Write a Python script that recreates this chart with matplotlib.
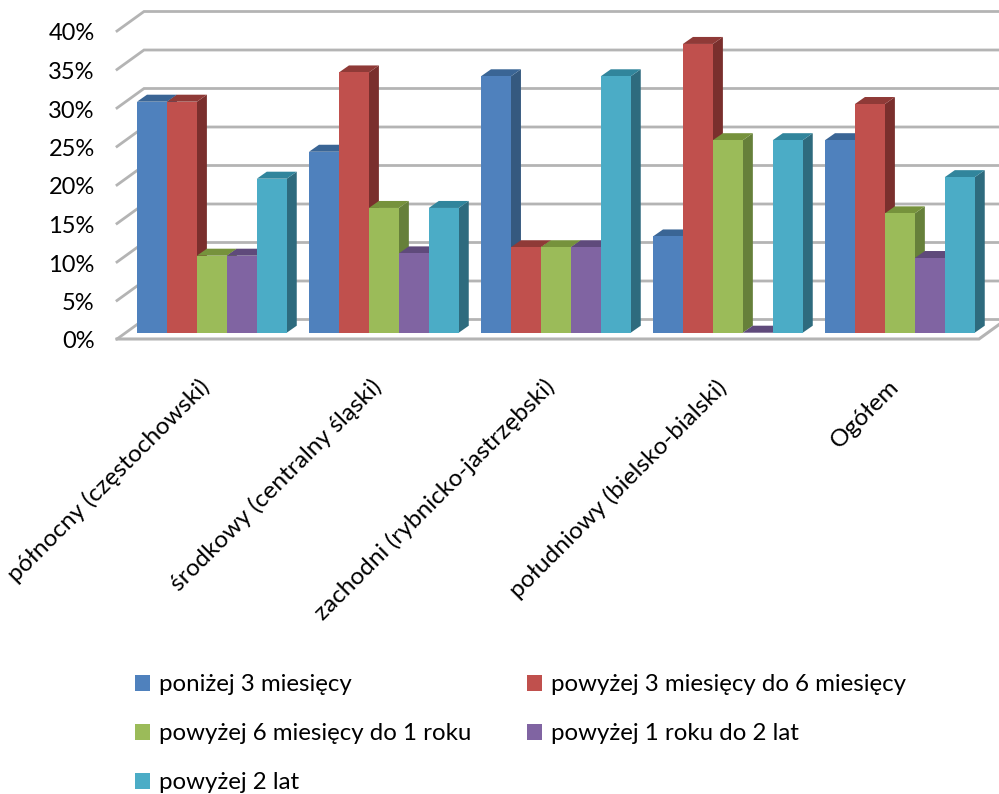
import matplotlib
matplotlib.use("Agg")
import matplotlib.pyplot as plt
from matplotlib.patches import Patch
from matplotlib.transforms import ScaledTranslation

plt.rcParams['font.family'] = ['Lato', 'DejaVu Sans']

categories = ["północny (częstochowski)", "środkowy (centralny śląski)",
              "zachodni (rybnicko-jastrzębski)", "południowy (bielsko-bialski)", "Ogółem"]
series_names = ["poniżej 3 miesięcy", "powyżej 3 miesięcy do 6 miesięcy",
                "powyżej 6 miesięcy do 1 roku", "powyżej 1 roku do 2 lat", "powyżej 2 lat"]
s1 = [30.0, 23.5, 33.3, 12.5, 25.0]
s2 = [30.0, 33.8, 11.1, 37.5, 29.7]
s3 = [10.0, 16.2, 11.1, 25.0, 15.5]
s4 = [10.0, 10.3, 11.1, 0.0, 9.7]
s5 = [20.0, 16.2, 33.3, 25.0, 20.2]
series = [s1, s2, s3, s4, s5]
yticks = [0, 5, 10, 15, 20, 25, 30, 35, 40]
front = ["#4F81BD", "#C0504D", "#9BBB59", "#8064A2", "#4BACC6"]
tops = ["#3A6595", "#8F3A37", "#76923C", "#5F4A7B", "#31859C"]
sides = ["#35597F", "#7A2F2D", "#66803A", "#574270", "#2E6B7E"]
grid = "#B4B4B4"

W, H = 999, 794
fig = plt.figure(figsize=(W / 100, H / 100), dpi=100, facecolor="white")
L, R, T, B = 117, 979, 31, 339
ax = fig.add_axes([L / W, 1 - B / H, (R - L) / W, (B - T) / H])
ax.set_xlim(0, 5)
ax.set_ylim(0, 40)
ax.patch.set_visible(False)
for s in ax.spines.values():
    s.set_visible(False)

ux = (R - L) / 5          # px per category
uy = (B - T) / 40         # px per percent
def dx(px): return px / ux
def dy(px): return px / uy

# depth offsets
wall_dx, wall_dy = dx(27), dy(19.5)
bar_off_x, bar_off_y = dx(9.7), dy(6.3)
bar_dx, bar_dy = dx(10), dy(7)

# walls / gridlines
for v in yticks:
    ax.plot([0, wall_dx, 5 + wall_dx], [v, v + wall_dy, v + wall_dy],
            color=grid, lw=2.0, clip_on=False, zorder=1, solid_joinstyle="miter")
ax.plot([0, 5, 5 + wall_dx], [0, 0, wall_dy], color=grid, lw=2.2, clip_on=False, zorder=1,
        solid_joinstyle="miter")

bw = dx(29.95)
gap = dx(10.3)
pitch = 172.0 / ux
z = 3
for c in range(len(categories)):
    for i, vals in enumerate(series):
        v = vals[c]
        x0 = c * pitch + gap + bar_off_x + i * bw
        x1 = x0 + bw
        y0 = bar_off_y
        y1 = y0 + v
        ax.fill([x1, x1 + bar_dx, x1 + bar_dx, x1], [y0, y0 + bar_dy, y1 + bar_dy, y1],
                color=sides[i], lw=0, clip_on=False, zorder=z)
        ax.fill([x0, x0 + bar_dx, x1 + bar_dx, x1], [y1, y1 + bar_dy, y1 + bar_dy, y1],
                color=tops[i], lw=0, clip_on=False, zorder=z)
        ax.bar(x0, v, width=bw, bottom=y0, align="edge", color=front[i], lw=0,
               clip_on=False, zorder=z + 0.5)
        z += 1

ax.set_yticks(yticks)
ax.set_yticklabels([f"{v}%" for v in yticks], fontsize=17, color="black")
ax.set_xticks([c + 0.5 for c in range(len(categories))])
ax.set_xticklabels(categories, rotation=45, ha="right", rotation_mode="anchor",
                   fontsize=17.6, color="black")
ax.tick_params(axis="both", length=0)
ax.tick_params(axis="y", pad=16)
ax.tick_params(axis="x", pad=26.5)
shift = ScaledTranslation(-5 / 100, 0, fig.dpi_scale_trans)
for lab in ax.get_xticklabels():
    lab.set_transform(lab.get_transform() + shift)
shift_y = ScaledTranslation(0, -1 / 100, fig.dpi_scale_trans)
for lab in ax.get_yticklabels():
    lab.set_transform(lab.get_transform() + shift_y)

order = [0, 2, 4, 1, 3]
handles = [Patch(facecolor=front[i], edgecolor="none", label=series_names[i]) for i in order]
leg = fig.legend(handles=handles, ncols=2, frameon=False, fontsize=17.3,
                 loc="upper left", bbox_to_anchor=(128 / W, 1 - 667 / H),
                 handlelength=0.63, handleheight=0.63, handletextpad=0.37,
                 columnspacing=2.3, labelspacing=1.17, borderaxespad=0, borderpad=0.3)

fig.savefig("out.png", dpi=100, facecolor="white")
